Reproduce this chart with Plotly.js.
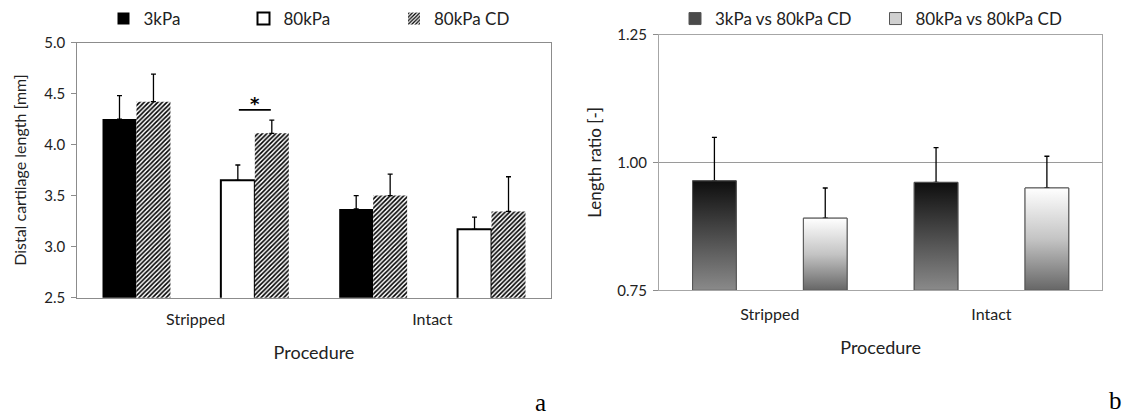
<!DOCTYPE html>
<html><head><meta charset="utf-8">
<script src="https://cdn.plot.ly/plotly-3.0.1.min.js"></script>
<style>html,body{margin:0;padding:0;background:#fff}#chart{width:1129px;height:416px}</style>
</head><body><div id="chart"></div>
<script>
// ---------------- data ----------------
const categories = ['Stripped', 'Intact'];
// panel a: distal cartilage length [mm], mean and +SD
const len3kPa = [4.25, 3.37];
const len3kPaErr = [0.23, 0.13];
const len80kPa = [3.65, 3.17];
const len80kPaErr = [0.15, 0.12];
// 80kPa CD, paired with the 3kPa measurement and with the 80kPa measurement
const lenCDwith3kPa = [4.42, 3.50];
const lenCDwith3kPaErr = [0.27, 0.21];
const lenCDwith80kPa = [4.11, 3.345];
const lenCDwith80kPaErr = [0.13, 0.34];
// significance (Stripped: 80kPa vs 80kPa CD)
const sigLevel = 4.34;
const sigText = '*';
// panel b: length ratio [-], mean and +SD
const ratio3vsCD = [0.964, 0.961];
const ratio3vsCDErr = [0.085, 0.068];
const ratio80vsCD = [0.891, 0.950];
const ratio80vsCDErr = [0.059, 0.062];
// ticks
const tickValsA = [2.5, 3.0, 3.5, 4.0, 4.5, 5.0];
const tickTextA = ['2.5', '3.0', '3.5', '4.0', '4.5', '5.0'];
const tickValsB = [0.75, 1.00, 1.25];
const tickTextB = ['0.75', '1.00', '1.25'];
const seriesNames = ['3kPa', '80kPa', '80kPa CD', '3kPa vs 80kPa CD', '80kPa vs 80kPa CD'];

// ---------------- layout helpers ----------------
const W = 1129, H = 416;
const px = v => v / W, py = v => 1 - v / H;
const FONT = 'Lato, "Open Sans", sans-serif';
const TXT = '#222';
const rangeA = [2.5, 5.0], rangeB = [0.75, 1.25];
const wA = 0.287, wB = 0.394;
// each procedure has two slots: pair with 3kPa (0) and pair with 80kPa (1)
const slot = (ci, sub) => ci * 2 + sub;
const slots0 = categories.map((c, i) => slot(i, 0));
const slots1 = categories.map((c, i) => slot(i, 1));
const tickPos = categories.map((c, i) => slot(i, 0) + 0.5);
const zeros = a => a.map(() => 0);

const errStyle = (arr) => ({type: 'data', array: arr, arrayminus: zeros(arr), symmetric: false,
  visible: true, color: '#000', thickness: 1.3, width: 2.5});

const cdX = [], cdY = [], cdE = [];
categories.forEach((c, i) => {
  cdX.push(slot(i, 0), slot(i, 1));
  cdY.push(lenCDwith3kPa[i], lenCDwith80kPa[i]);
  cdE.push(lenCDwith3kPaErr[i], lenCDwith80kPaErr[i]);
});

const traces = [
  {type: 'bar', name: seriesNames[0], legend: 'legend', x: slots0, y: len3kPa, width: wA, offset: -wA,
   marker: {color: '#000', line: {width: 0}}, error_y: errStyle(len3kPaErr), xaxis: 'x', yaxis: 'y'},
  {type: 'bar', name: seriesNames[1], legend: 'legend2', x: slots1, y: len80kPa, width: wA, offset: -wA,
   marker: {color: '#fff', line: {color: '#000', width: 2}}, error_y: errStyle(len80kPaErr), xaxis: 'x', yaxis: 'y'},
  {type: 'bar', name: seriesNames[2], legend: 'legend3', x: cdX, y: cdY, width: wA, offset: 0,
   marker: {color: '#fff', line: {width: 0}, pattern: {shape: '/', fgcolor: '#000', bgcolor: '#fff', size: 3.2, solidity: 0.5}},
   error_y: errStyle(cdE), xaxis: 'x', yaxis: 'y'},
  {type: 'bar', name: seriesNames[3], legend: 'legend4', x: slots0, y: ratio3vsCD, width: wB,
   marker: {color: '#4a4a4a', line: {color: '#555', width: 1}}, error_y: errStyle(ratio3vsCDErr), xaxis: 'x2', yaxis: 'y2'},
  {type: 'bar', name: seriesNames[4], legend: 'legend5', x: slots1, y: ratio80vsCD, width: wB,
   marker: {color: '#d0d0d0', line: {color: '#555', width: 1}}, error_y: errStyle(ratio80vsCDErr), xaxis: 'x2', yaxis: 'y2'}
];

// gradient overlays for panel b bars (built from the same data)
const darkScale = [[0, '#8a8a8a'], [0.5, '#4c4c4c'], [1, '#0e0e0e']];
const lightScale = [[0, '#666666'], [0.5, '#c4c4c4'], [1, '#ffffff']];
function gradBar(xc, v, scale) {
  const b = rangeB[0];
  return {type: 'scatter', mode: 'lines', x: [xc - wB / 2, xc + wB / 2, xc + wB / 2, xc - wB / 2, xc - wB / 2],
    y: [b, b, v, v, b], fill: 'toself', fillgradient: {type: 'vertical', colorscale: scale},
    line: {color: '#555', width: 1}, showlegend: false, hoverinfo: 'skip', xaxis: 'x2', yaxis: 'y2'};
}
categories.forEach((c, i) => {
  traces.push(gradBar(slot(i, 0), ratio3vsCD[i], darkScale));
  traces.push(gradBar(slot(i, 1), ratio80vsCD[i], lightScale));
});

const legendBase = (xc) => ({x: px(xc - 20), y: py(19), xanchor: 'left', yanchor: 'middle', orientation: 'h',
  bgcolor: 'rgba(0,0,0,0)', borderwidth: 0, font: {family: FONT, size: 17, color: TXT}});

const axisCommonY = {showline: true, mirror: true, linecolor: '#8c8c8c', linewidth: 1, ticks: 'outside', ticklen: 5,
  tickcolor: '#8c8c8c', tickfont: {family: FONT, size: 15, color: TXT}, zeroline: false, fixedrange: true, automargin: false};
const axisCommonX = {showline: true, mirror: true, linecolor: '#8c8c8c', linewidth: 1, ticks: '', showgrid: false,
  tickfont: {family: FONT, size: 16, color: TXT}, zeroline: false, range: [-0.5, 3.5], tickmode: 'array',
  tickvals: tickPos, ticktext: categories, fixedrange: true, automargin: false};

const layout = {
  width: W, height: H, margin: {l: 0, r: 0, t: 0, b: 0}, paper_bgcolor: '#fff', plot_bgcolor: '#fff',
  barmode: 'overlay', font: {family: FONT, color: TXT},
  xaxis: Object.assign({}, axisCommonX, {domain: [px(77.3), px(550.7)], anchor: 'y', ticklabelstandoff: 7,
    title: {text: 'Procedure', font: {family: FONT, size: 18, color: TXT}, standoff: 19}}),
  yaxis: Object.assign({}, axisCommonY, {domain: [py(297.7), py(42.5)], anchor: 'x', range: rangeA,
    tickmode: 'array', tickvals: tickValsA, ticktext: tickTextA, showgrid: false, ticklabelstandoff: 3,
    title: {text: 'Distal cartilage length [mm]', font: {family: FONT, size: 16, color: TXT}, standoff: 13}}),
  xaxis2: Object.assign({}, axisCommonX, {domain: [px(659), px(1102.3)], anchor: 'y2', linecolor: '#a6a6a6',
    ticklabelstandoff: 9,
    title: {text: 'Procedure', font: {family: FONT, size: 18, color: TXT}, standoff: 19}}),
  yaxis2: Object.assign({}, axisCommonY, {domain: [py(290.3), py(34.5)], anchor: 'x2', range: rangeB, linecolor: '#a6a6a6',
    tickmode: 'array', tickvals: tickValsB, ticktext: tickTextB, showgrid: true, gridcolor: '#9a9a9a', gridwidth: 1,
    ticklabelstandoff: 3,
    title: {text: 'Length ratio [-]', font: {family: FONT, size: 17, color: TXT}, standoff: 11}}),
  legend: legendBase(123.5),
  legend2: legendBase(263.5),
  legend3: legendBase(414),
  legend4: legendBase(695),
  legend5: legendBase(895.5),
  shapes: [
    {type: 'line', xref: 'x', yref: 'y', x0: slot(0, 1) - 0.135, x1: slot(0, 1) + 0.135, y0: sigLevel, y1: sigLevel,
     line: {color: '#000', width: 1.6}}
  ],
  annotations: [
    {xref: 'x', yref: 'y', x: slot(0, 1), y: sigLevel, text: '<b>' + sigText + '</b>', showarrow: false, yanchor: 'bottom',
     yshift: -6, font: {family: '"DejaVu Sans", sans-serif', size: 18, color: '#000'}},
    {xref: 'paper', yref: 'paper', x: px(540), y: py(402), text: 'a', showarrow: false, xanchor: 'center', yanchor: 'middle',
     font: {family: '"Liberation Serif", "DejaVu Serif", serif', size: 25, color: '#000'}},
    {xref: 'paper', yref: 'paper', x: px(1115), y: py(400), text: 'b', showarrow: false, xanchor: 'center', yanchor: 'middle',
     font: {family: '"Liberation Serif", "DejaVu Serif", serif', size: 25, color: '#000'}}
  ]
};

Plotly.newPlot('chart', traces, layout, {displayModeBar: false, staticPlot: true});
</script>
</body></html>
